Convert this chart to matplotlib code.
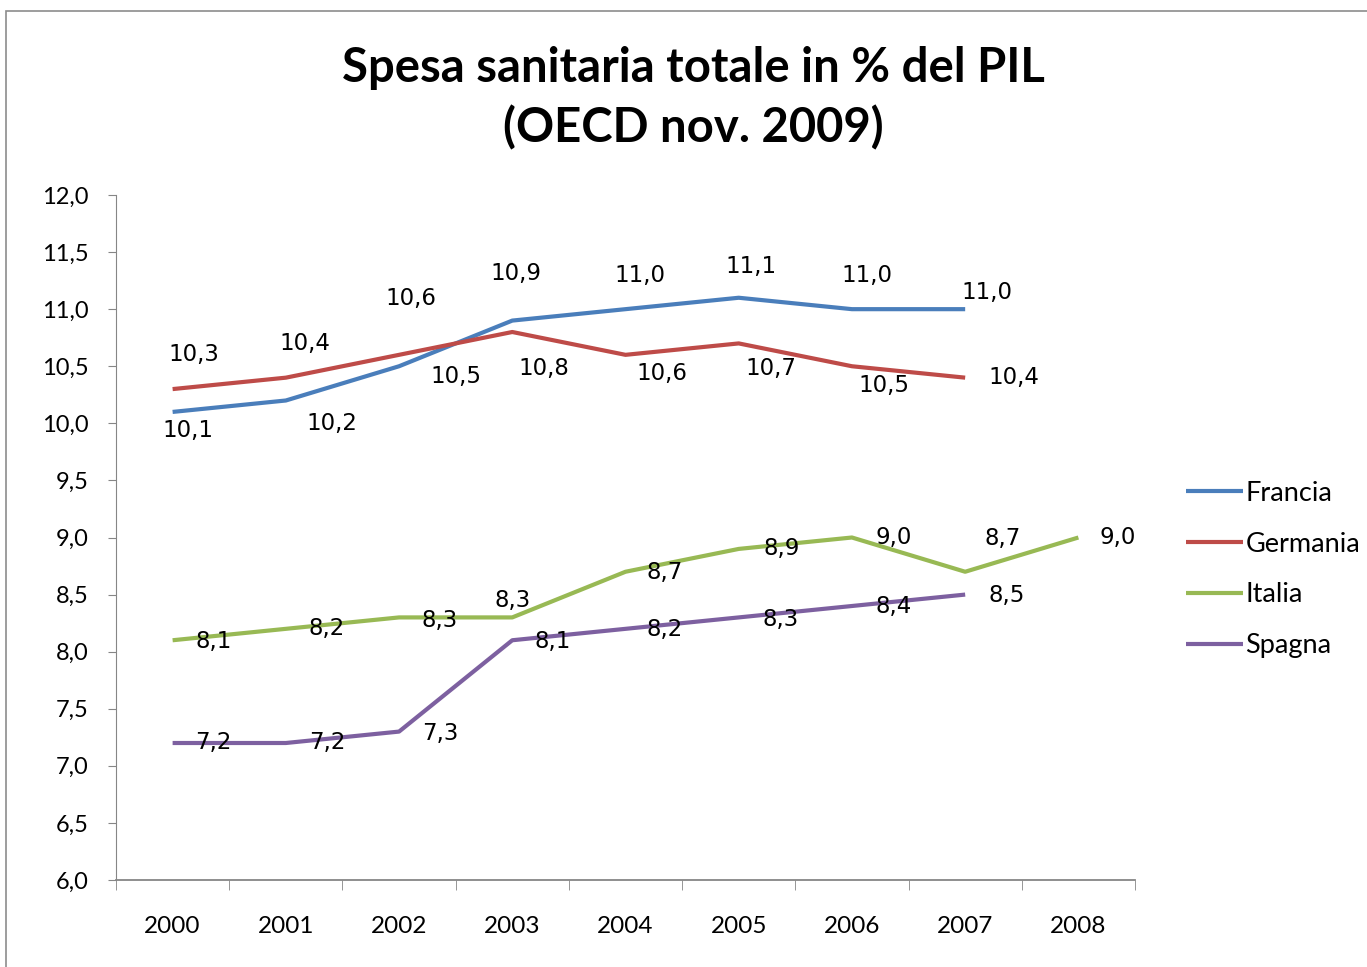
import matplotlib
matplotlib.use("Agg")
import matplotlib.pyplot as plt
from matplotlib.patches import Rectangle

years = ["2000", "2001", "2002", "2003", "2004", "2005", "2006", "2007", "2008"]
francia = [10.1, 10.2, 10.5, 10.9, 11.0, 11.1, 11.0, 11.0]
germania = [10.3, 10.4, 10.6, 10.8, 10.6, 10.7, 10.5, 10.4]
italia = [8.1, 8.2, 8.3, 8.3, 8.7, 8.9, 9.0, 8.7, 9.0]
spagna = [7.2, 7.2, 7.3, 8.1, 8.2, 8.3, 8.4, 8.5]

series = [
    ("Francia", francia, "#4A7EBB"),
    ("Germania", germania, "#BE4B48"),
    ("Italia", italia, "#98B954"),
    ("Spagna", spagna, "#7D60A0"),
]

# label placement offsets in pixels (dx right, dy down) for each data point
label_offsets = {
    "Francia": [(15, 19), (46, 23), (57, 10), (4, -47), (14, -34), (12, -31), (15, -34), (22, -17)],
    "Germania": [(21, -35), (19, -34), (12, -56), (32, 36), (36, 19), (32, 25), (32, 19), (49, 0)],
    "Italia": [(41, 1), (41, 0), (41, 3), (0, -17), (39, 1), (43, 0), (42, 0), (38, -33), (39, 0)],
    "Spagna": [(41, 0), (41, 0), (41, 2), (40, 1), (39, 1), (42, 2), (42, 1), (42, 1)],
}

W, H, DPI = 1367, 967, 100
fig = plt.figure(figsize=(W / DPI, H / DPI), dpi=DPI)
fig.patch.set_facecolor("white")

# outer chart frame
fig.patches.append(Rectangle((6 / W, -0.01), 1.02, 1 - 11 / H + 0.01, transform=fig.transFigure,
                             fill=False, edgecolor="#8C8C8C", linewidth=1.2))

ax = fig.add_axes([116 / W, 1 - 880 / H, (1135 - 116) / W, (880 - 195) / H])
ax.set_xlim(-0.5, len(years) - 0.5)
ax.set_ylim(6.0, 12.0)

axis_col = "#868686"
for side in ("top", "right"):
    ax.spines[side].set_visible(False)
ax.spines["left"].set_color(axis_col)
ax.spines["bottom"].set_color(axis_col)
ax.spines["bottom"].set_linewidth(1.3)

yt = [6.0 + 0.5 * i for i in range(13)]
ax.set_yticks(yt)
ax.set_yticklabels([f"{v:.1f}".replace(".", ",") for v in yt], fontsize=17, family="Lato")
ax.tick_params(axis="y", length=6, color=axis_col, pad=14)

ax.set_xticks(range(len(years)))
ax.set_xticklabels(years, fontsize=17.5, family="Lato")
ax.set_xticks([i - 0.5 for i in range(len(years) + 1)], minor=True)
ax.tick_params(axis="x", which="major", length=0, pad=26)
ax.tick_params(axis="x", which="minor", length=7, color=axis_col)

for name, vals, col in series:
    xs = list(range(len(vals)))
    ax.plot(xs, vals, color=col, linewidth=3.0, solid_capstyle="butt", label=name)
    for x, v, (dx, dy) in zip(xs, vals, label_offsets[name]):
        ax.annotate(f"{v:.1f}".replace(".", ","), (x, v), xytext=(dx * 0.72, -dy * 0.72),
                    textcoords="offset points", ha="center", va="center",
                    fontsize=16.5, family="DejaVu Sans", color="black")

leg = ax.legend(loc="upper left", bbox_to_anchor=(1175 / W, 1 - 470 / H), bbox_transform=fig.transFigure,
                frameon=False, prop={"family": "Lato", "size": 19.5}, handlelength=2.1,
                handletextpad=0.1, labelspacing=0.95, borderaxespad=0)
for h in leg.get_lines():
    h.set_linewidth(3.0)

fig.text(0.5 + 10 / W, 1 - 68 / H, "Spesa sanitaria totale in % del PIL", ha="center", va="center",
         fontsize=34, fontweight="bold", family="Lato")
fig.text(0.5 + 10 / W, 1 - 128 / H, "(OECD nov. 2009)", ha="center", va="center",
         fontsize=34, fontweight="bold", family="Lato")

fig.savefig("out.png", dpi=DPI, facecolor="white")
